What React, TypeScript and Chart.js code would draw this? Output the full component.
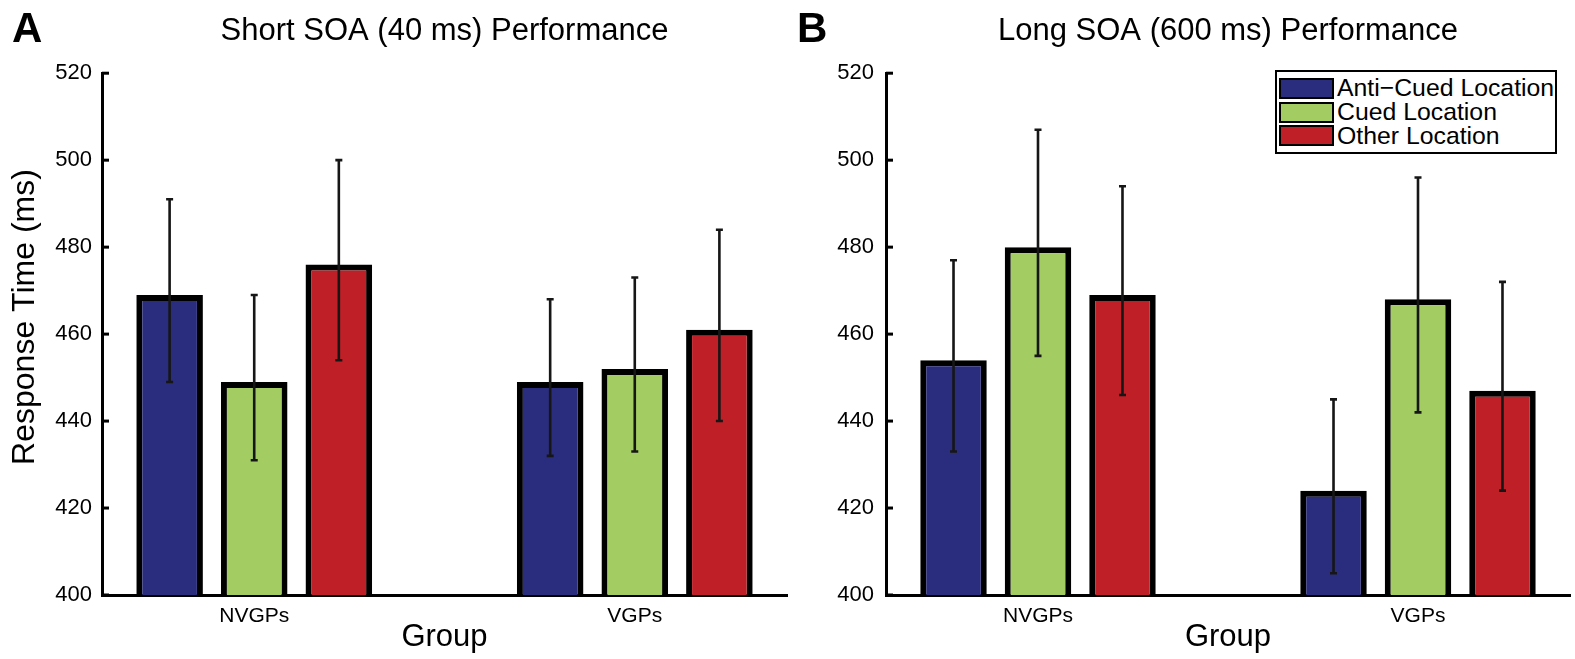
import React, { useEffect, useRef } from 'react';
import { Chart, registerables } from 'chart.js';

Chart.register(...registerables);

// ---------- data ----------
const groups = ['NVGPs', 'VGPs'];
const seriesNames = ['Anti\u2212Cued Location', 'Cued Location', 'Other Location'];
const seriesColors = ['#2a2d7e', '#a3cd62', '#bf1f26'];
const yTicks = [400, 420, 440, 460, 480, 500, 520];

// Short SOA (40 ms)
const shortAnti = [469, 449];
const shortCued = [449, 452];
const shortOther = [476, 461];
const shortAntiErr = [[449, 491], [432, 468]];
const shortCuedErr = [[431, 469], [433, 473]];
const shortOtherErr = [[454, 500], [440, 484]];

// Long SOA (600 ms)
const longAnti = [454, 424];
const longCued = [480, 468];
const longOther = [469, 447];
const longAntiErr = [[433, 477], [405, 445]];
const longCuedErr = [[455, 507], [442, 496]];
const longOtherErr = [[446, 494], [424, 472]];

const FONT = '"Liberation Sans", Arial, Helvetica, sans-serif';

type PanelProps = {
  left: number;
  width: number;
  plotLeft: number;
  plotRight: number;
  title: string;
  values: number[][];
  errs: number[][][];
  yLabel?: string;
  tickPad: number;
};

function Panel(props: PanelProps) {
  const ref = useRef<HTMLCanvasElement | null>(null);
  useEffect(() => {
    const canvas = ref.current;
    if (!canvas) return;
    const { values, errs } = props;

    const errorBars = {
      id: 'errorBarsInline',
      afterDatasetsDraw(chart: any) {
        const ctx = chart.ctx;
        const ys = chart.scales.y;
        ctx.save();
        ctx.strokeStyle = '#161616';
        ctx.lineWidth = 2.6;
        errs.forEach((series, di) => {
          const meta = chart.getDatasetMeta(di);
          series.forEach((e, pi) => {
            const el = meta.data[pi];
            if (!el) return;
            const x = el.x;
            const y1 = ys.getPixelForValue(e[0]);
            const y2 = ys.getPixelForValue(e[1]);
            const cap = 3.5;
            ctx.beginPath();
            ctx.moveTo(x, y1);
            ctx.lineTo(x, y2);
            ctx.moveTo(x - cap, y1);
            ctx.lineTo(x + cap, y1);
            ctx.moveTo(x - cap, y2);
            ctx.lineTo(x + cap, y2);
            ctx.stroke();
          });
        });
        ctx.restore();
      },
    };

    const inwardTicks = {
      id: 'inwardTicks',
      afterDraw(chart: any) {
        const ctx = chart.ctx;
        const ys = chart.scales.y;
        const l = chart.chartArea.left;
        ctx.save();
        ctx.strokeStyle = '#000';
        ctx.lineWidth = 3;
        ys.ticks.forEach((t: any) => {
          const y = ys.getPixelForValue(t.value);
          ctx.beginPath();
          ctx.moveTo(l, y);
          ctx.lineTo(l + 7, y);
          ctx.stroke();
        });
        ctx.restore();
      },
    };

    const yTitle = {
      id: 'yTitle',
      afterDraw(chart: any) {
        if (!props.yLabel) return;
        const ctx = chart.ctx;
        ctx.save();
        ctx.translate(25, 317);
        ctx.rotate(-Math.PI / 2);
        ctx.font = `32px ${FONT}`;
        ctx.fillStyle = '#000';
        ctx.textAlign = 'center';
        ctx.textBaseline = 'middle';
        ctx.fillText(props.yLabel, 0, 0);
        ctx.restore();
      },
    };

    const chart = new Chart(canvas, {
      type: 'bar',
      data: {
        datasets: values.map((vals, i) => ({
          label: seriesNames[i],
          data: vals.map((v, j) => ({ x: j + 1, y: v })),
          backgroundColor: seriesColors[i],
          borderColor: '#000',
          borderWidth: 6,
          borderSkipped: false,
          categoryPercentage: 0.667,
          barPercentage: 0.787,
        })),
      },
      options: {
        responsive: false,
        maintainAspectRatio: false,
        animation: false,
        devicePixelRatio: 1,
        layout: { padding: { left: 0, right: props.width - props.plotRight, top: 0, bottom: 0 } },
        plugins: {
          legend: { display: false },
          tooltip: { enabled: false },
          title: {
            display: true,
            text: props.title,
            fullSize: false,
            color: '#000',
            font: { family: FONT, size: 31, weight: 'normal', lineHeight: 1.2 },
            padding: { top: 13, bottom: 23 },
          },
        },
        scales: {
          x: {
            type: 'linear',
            min: 0.6,
            max: 2.4,
            offset: false,
            afterBuildTicks: (scale: any) => {
              scale.ticks = groups.map((_, i) => ({ value: i + 1 }));
            },
            afterFit: (scale: any) => {
              scale.height = 64;
            },
            ticks: {
              color: '#000',
              padding: 9,
              font: { family: FONT, size: 21, lineHeight: 1.2 },
              callback: (v: any) => groups[Number(v) - 1] ?? '',
              autoSkip: false,
              maxRotation: 0,
            },
            grid: { display: false, drawTicks: false, tickLength: 0, offset: false },
            border: { display: true, color: '#000', width: 3 },
            title: {
              display: true,
              text: 'Group',
              color: '#000',
              font: { family: FONT, size: 31, lineHeight: 1.2 },
              padding: { top: 0, bottom: 3 },
            },
          },
          y: {
            type: 'linear',
            min: 400,
            max: 520,
            afterBuildTicks: (scale: any) => {
              scale.ticks = yTicks.map((v) => ({ value: v }));
            },
            afterFit: (scale: any) => {
              scale.width = props.plotLeft;
            },
            ticks: {
              color: '#000',
              padding: props.tickPad,
              font: { family: FONT, size: 22, lineHeight: 1.2 },
            },
            grid: { display: false, drawTicks: false, tickLength: 0 },
            border: { display: true, color: '#000', width: 3 },
          },
        },
      } as any,
      plugins: [errorBars, inwardTicks, yTitle],
    });
    return () => chart.destroy();
  }, []);

  return (
    <canvas
      ref={ref}
      width={props.width}
      height={659}
      style={{ position: 'absolute', left: props.left, top: 0, width: props.width, height: 659 }}
    />
  );
}

function Legend() {
  return (
    <div
      style={{
        position: 'absolute',
        left: 1275,
        top: 70,
        width: 282,
        height: 84,
        boxSizing: 'border-box',
        border: '2px solid #000',
        background: '#fff',
        paddingTop: 5,
        fontFamily: FONT,
        fontSize: 24.8,
        color: '#000',
      }}
    >
      {seriesNames.map((n, i) => (
        <div key={n} style={{ display: 'flex', alignItems: 'center', height: 23.6 }}>
          <div
            style={{
              width: 55,
              height: 21,
              boxSizing: 'border-box',
              border: '2px solid #000',
              background: seriesColors[i],
              marginLeft: 2,
              marginRight: 3,
            }}
          />
          <span style={{ lineHeight: 1, whiteSpace: 'nowrap' }}>{n}</span>
        </div>
      ))}
    </div>
  );
}

export default function App() {
  return (
    <div
      style={{
        position: 'absolute',
        left: 0,
        top: 0,
        width: 1575,
        height: 659,
        background: '#fff',
        overflow: 'hidden',
      }}
    >
      <Panel
        left={0}
        width={800}
        plotLeft={102}
        plotRight={787}
        title="Short SOA (40 ms) Performance"
        values={[shortAnti, shortCued, shortOther]}
        errs={[shortAntiErr, shortCuedErr, shortOtherErr]}
        yLabel="Response Time (ms)"
        tickPad={10}
      />
      <Panel
        left={800}
        width={775}
        plotLeft={86}
        plotRight={770}
        title="Long SOA (600 ms) Performance"
        values={[longAnti, longCued, longOther]}
        errs={[longAntiErr, longCuedErr, longOtherErr]}
        tickPad={12}
      />
      <div style={{ position: 'absolute', left: 12, top: 7, fontFamily: FONT, fontWeight: 'bold', fontSize: 42, lineHeight: 1 }}>A</div>
      <div style={{ position: 'absolute', left: 797, top: 7, fontFamily: FONT, fontWeight: 'bold', fontSize: 42, lineHeight: 1 }}>B</div>
      <Legend />
    </div>
  );
}
